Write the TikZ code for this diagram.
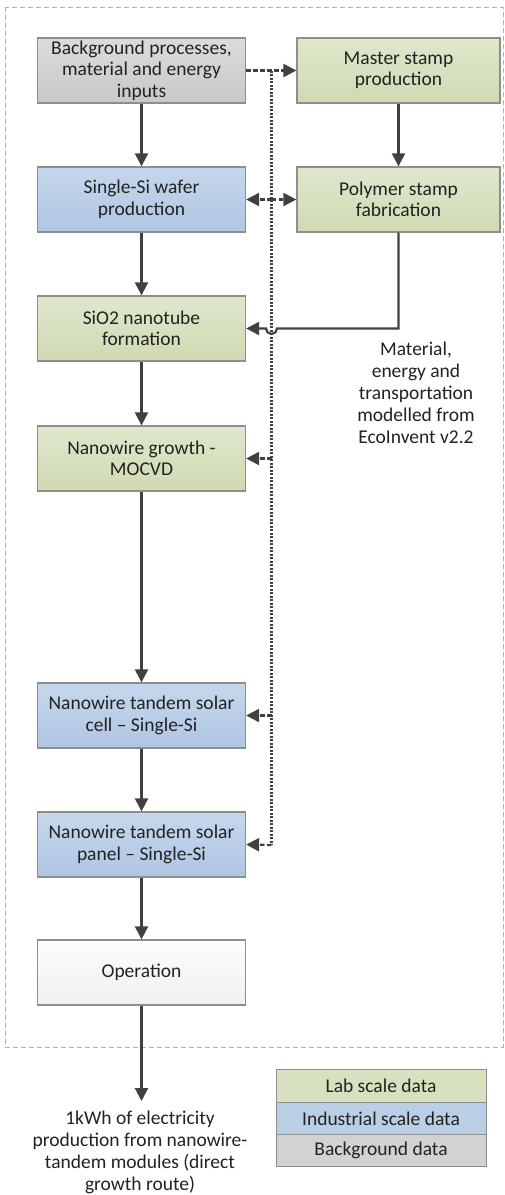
\documentclass[tikz,border=0pt]{standalone}
\usepackage{fontspec}
\setmainfont{Carlito}
\usetikzlibrary{arrows.meta}
\definecolor{labgreenT}{HTML}{DFE7CC}
\definecolor{labgreenB}{HTML}{CFDAB3}
\definecolor{labgreen}{HTML}{D7E1C0}
\definecolor{indblueT}{HTML}{C6D7EC}
\definecolor{indblueB}{HTML}{AFC6E2}
\definecolor{indblue}{HTML}{BACEE6}
\definecolor{bggrayT}{HTML}{DCDCDC}
\definecolor{bggrayB}{HTML}{C8C8C8}
\definecolor{bggray}{HTML}{D2D2D2}
\definecolor{opT}{HTML}{FDFDFD}
\definecolor{opB}{HTML}{F0F0F0}
\definecolor{edge}{HTML}{8E8E8E}
\definecolor{linec}{HTML}{404040}
\definecolor{txt}{HTML}{222222}
\begin{document}
\begin{tikzpicture}[x=1pt,y=-1pt,
  box/.style={draw=edge,line width=1.3pt,minimum width=208pt,minimum height=65pt,align=center,inner sep=2pt,text=txt,font=\fontsize{19.5}{21.5}\selectfont},
  lab/.style={box,top color=labgreenT,bottom color=labgreenB},
  ind/.style={box,top color=indblueT,bottom color=indblueB},
  bgd/.style={box,top color=bggrayT,bottom color=bggrayB},
  opbox/.style={box,top color=opT,bottom color=opB},
  legrow/.style={draw=edge,line width=1pt,minimum width=210pt,minimum height=32.3pt,inner sep=0pt,text=txt,font=\fontsize{19.5}{21.5}\selectfont},
  flow/.style={draw=linec,line width=2.2pt,-{Triangle[length=13pt,width=13pt]}},
  dflow/.style={draw=linec,line width=2.2pt,dash pattern=on 4.5pt off 2.5pt,-{Triangle[length=13pt,width=13pt]}},
  dotline/.style={draw=linec,line width=2.4pt,dash pattern=on 2.2pt off 1.3pt},
  plain/.style={font=\fontsize{19.5}{22}\selectfont,align=center,text=txt}]
\useasboundingbox (0,0) rectangle (505,1195);
\draw[draw=edge!70,line width=1pt,dash pattern=on 5pt off 3pt] (5,7) rectangle (503,1047);

\node[bgd] (bg) at (141.5,70.5) {Background processes,\\material and energy\\inputs};
\node[lab,minimum width=203pt] (master) at (398.5,70.5) {Master stamp\\production};
\node[ind] (wafer) at (141.5,199.5) {Single-Si wafer\\production};
\node[lab,minimum width=203pt] (poly) at (398.5,199.5) {Polymer stamp\\fabrication};
\node[lab] (sio) at (141.5,328.5) {SiO2 nanotube\\formation};
\node[lab] (grow) at (141.5,458.5) {Nanowire growth -\\MOCVD};
\node[ind] (cell) at (141.5,715.5) {Nanowire tandem solar\\cell -- Single-Si};
\node[ind] (panel) at (141.5,844.5) {Nanowire tandem solar\\panel -- Single-Si};
\node[opbox] (op) at (141.5,972.5) {Operation};

\node[plain] (note) at (416,393) {Material,\\energy and\\transportation\\modelled from\\EcoInvent v2.2};
\node[plain] (out) at (140,1152) {1kWh of electricity\\production from nanowire-\\tandem modules (direct\\growth route)};

\node[legrow,fill=labgreen] (l1) at (381,1086) {Lab scale data};
\node[legrow,fill=indblue] (l2) at (381,1118.3) {Industrial scale data};
\node[legrow,fill=bggray] (l3) at (381,1150.6) {Background data};

% solid flows
\draw[flow] (bg) -- (wafer);
\draw[flow] (master) -- (poly);
\draw[flow] (wafer) -- (sio);
\draw[flow] (sio) -- (grow);
\draw[flow] (grow) -- (cell);
\draw[flow] (cell) -- (panel);
\draw[flow] (panel) -- (op);
\coordinate (outtop) at (141.5,1101);
\draw[flow] (op) -- (outtop);

% dotted distribution line
\coordinate (d0) at (271.5,70.5);
\coordinate (d1) at (271.5,845);
\draw[dotline] (d0) -- (d1);
\draw[dflow] (bg.east) -- (master.west);
\draw[dflow] (271.5,199.5) -- (wafer.east);
\draw[dflow] (271.5,199.5) -- (poly.west);
\draw[dflow] (271.5,458.5) -- (grow.east);
\draw[dflow] (271.5,715.5) -- (cell.east);
\draw[dflow] (d1) -- (panel.east);

% polymer to SiO2 with hop
\coordinate (p1) at (398.5,328.5);
\draw[flow] (poly.south) -- (p1) -- (277,328.5) arc[start angle=0,end angle=180,radius=5.5] -- (sio.east);
\end{tikzpicture}
\end{document}
